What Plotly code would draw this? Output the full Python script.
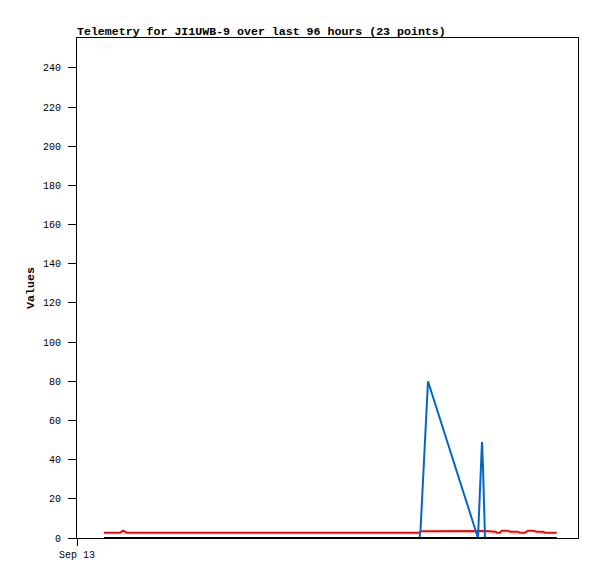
import plotly.graph_objects as go

# Sample timestamps
times = [
    "2023-09-13 05:44", "2023-09-13 09:08", "2023-09-13 09:46", "2023-09-13 10:37",
    "2023-09-16 00:43", "2023-09-16 00:56", "2023-09-16 02:31", "2023-09-16 13:08",
    "2023-09-16 13:34", "2023-09-16 13:59", "2023-09-16 14:12", "2023-09-16 14:25",
    "2023-09-16 14:37", "2023-09-16 16:54", "2023-09-16 17:10", "2023-09-16 17:48",
    "2023-09-16 18:10", "2023-09-16 19:30", "2023-09-16 19:56", "2023-09-16 21:38",
    "2023-09-16 21:57", "2023-09-16 23:07", "2023-09-16 23:41", "2023-09-17 00:49",
    "2023-09-17 01:36", "2023-09-17 02:56", "2023-09-17 03:22", "2023-09-17 05:51",
]
red_values = [2.7, 2.7, 3.7, 2.7, 2.7, 3.5, 3.5, 3.6, 3.6, 3.6, 3.6, 3.6, 3.6, 3.2,
              2.7, 2.7, 3.7, 3.7, 3.2, 3.2, 2.7, 2.7, 3.7, 3.7, 3.2, 3.2, 2.7, 2.7]
blue_values = [0, 0, 0, 0, 0, 4, 80, 0, 24, 49, 36, 12, 0, 0,
               0, 0, 0, 0, 0, 0, 0, 0, 0, 0, 0, 0, 0, 0]
black_values = [0] * len(times)

x_range = ["2023-09-13 00:00", "2023-09-17 10:22"]
y_range = [0, 255.3]
y_tickvals = list(range(0, 241, 20))
x_tickvals = ["2023-09-13 00:00"]
x_ticktext = ["Sep 13"]

title_text = "Telemetry for JI1UWB-9 over last 96 hours (23 points)"
font_family = "Liberation Mono, DejaVu Sans Mono, monospace"

W, H = 589, 571  # page body adds an 8px offset

fig = go.Figure()
fig.add_trace(go.Scatter(x=times, y=red_values, mode="lines",
                         line=dict(color="#FF0000", width=2), name="ch1"))
fig.add_trace(go.Scatter(x=times, y=blue_values, mode="lines",
                         line=dict(color="#0066CC", width=2), name="ch2"))
fig.add_trace(go.Scatter(x=times, y=black_values, mode="lines",
                         line=dict(color="#000000", width=2), name="ch3"))

fig.update_layout(
    width=W, height=H,
    margin=dict(l=69, r=19, t=30, b=41),
    paper_bgcolor="white", plot_bgcolor="white",
    showlegend=False,
    font=dict(family=font_family, size=10, color="#000000"),
    title=dict(text="<b>" + title_text + "</b>", x=69 / W, xanchor="left",
               y=(H - 27) / H, yanchor="bottom", yref="container",
               font=dict(family=font_family, size=11.6, color="#000000")),
)

fig.update_xaxes(
    type="date", range=x_range,
    tickvals=x_tickvals, ticktext=x_ticktext,
    ticks="outside", ticklen=7, tickcolor="#000000", tickwidth=1,
    showgrid=False, zeroline=False,
    showline=True, linecolor="#000000", linewidth=1, mirror=True,
    tickfont=dict(family=font_family, size=10, color="#000000"),
)
fig.update_yaxes(
    range=y_range, tickvals=y_tickvals,
    ticks="outside", ticklen=8, tickcolor="#000000", tickwidth=1,
    ticklabelstandoff=5,
    showgrid=False, zeroline=False,
    showline=True, linecolor="#000000", linewidth=1, mirror=True,
    tickfont=dict(family=font_family, size=10, color="#000000"),
    title=dict(text="<b>Values</b>", standoff=5,
               font=dict(family=font_family, size=11.6, color="#000000")),
)

fig.write_html("out.html")
